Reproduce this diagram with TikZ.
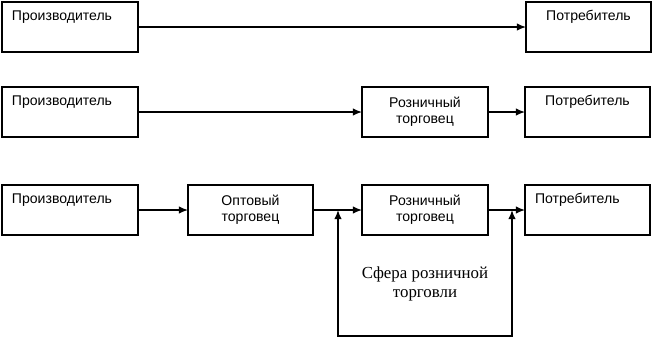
\documentclass[tikz,border=0pt]{standalone}
\usepackage{fontspec}
\setmainfont{Liberation Serif}
\setsansfont{Liberation Sans}
\usetikzlibrary{arrows.meta, positioning, calc}

\begin{document}
\begin{tikzpicture}[
        % Box styles
        leftbox/.style={rectangle, draw=black, line width=1.2pt, outer sep=0pt, minimum height=1.25cm, inner xsep=0.25cm, align=left, font=\sffamily\fontsize{10}{11.5}\selectfont},
        midbox/.style={rectangle, draw=black, line width=1.2pt, outer sep=0pt, minimum height=1.25cm, minimum width=3.15cm, align=center, font=\sffamily\fontsize{10}{11.5}\selectfont},
        sferatext/.style={align=center, font=\rmfamily\fontsize{12}{13}\selectfont},
        arrow/.style={draw, line width=1pt, -{Latex[length=2.3mm, width=1.9mm]}},
        backline/.style={draw, line width=1pt, {Latex[length=2.3mm, width=1.9mm]}-{Latex[length=2.3mm, width=1.9mm]}}
    ]

    \useasboundingbox (0,0) rectangle (16.325,-8.475);

    % --- ROW 1: DIRECT ---
    \node (prod1) [leftbox, text width=2.9cm, anchor=north west] at (0.05,-0.05) {Производитель\\[1pt]\strut};
    \node (cons1) [midbox, minimum width=3.125cm, right=9.7cm of prod1] {Потребитель\\[1pt]\strut};

    % --- ROW 2: ONE LEVEL ---
    \node (prod2) [leftbox, text width=2.9cm, below=0.875cm of prod1] {Производитель\\[1pt]\strut};
    \node (retail2) [midbox, right=5.6cm of prod2] {Розничный\\торговец};
    \node (cons2) [midbox, minimum width=3.125cm, right=0.925cm of retail2] {Потребитель\\[1pt]\strut};

    % --- ROW 3: TWO LEVELS ---
    \node (prod3) [leftbox, text width=2.9cm, below=1.2cm of prod2] {Производитель\\[1pt]\strut};
    \node (whole3) [midbox, minimum width=3.125cm, right=1.25cm of prod3] {Оптовый\\торговец};
    \node (retail3) [midbox, below=1.2cm of retail2] {Розничный\\торговец};
    \node (cons3) [leftbox, text width=2.625cm, below=1.2cm of cons2] {Потребитель\\[1pt]\strut};

    % --- RETAIL SPHERE ---
    \coordinate [right=0.625cm of whole3.east] (jleft);
    \coordinate [right=0.6cm of retail3.east] (jright);
    \coordinate [below=3.15cm of jleft] (bleft);
    \coordinate [below=3.15cm of jright] (bright);
    \node (sfera) [sferatext] at ($(bleft)!0.5!(bright)+(0,1.3)$) {Сфера розничной\\торговли};

    % --- DRAWING THE CONNECTING ARROWS ---
    \draw [arrow] (prod1) -- (cons1);

    \draw [arrow] (prod2) -- (retail2);
    \draw [arrow] (retail2) -- (cons2);

    \draw [arrow] (prod3) -- (whole3);
    \draw [arrow] (whole3) -- (retail3);
    \draw [arrow] (retail3) -- (cons3);

    \draw [backline] (jleft) -- (bleft) -- (bright) -- (jright);

\end{tikzpicture}
\end{document}
